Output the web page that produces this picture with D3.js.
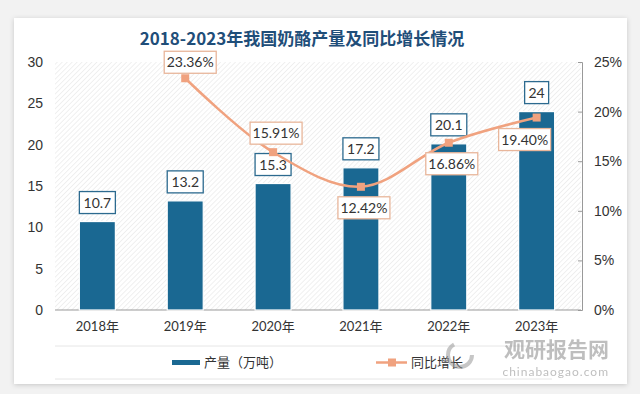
<!DOCTYPE html>
<html>
<head>
<meta charset="utf-8">
<script src="https://cdn.jsdelivr.net/npm/d3@7/dist/d3.min.js"></script>
<style>
  body { margin: 0; background: #f2f2f2; }
  svg { display: block; font-family: Lato, "Noto Sans CJK SC", sans-serif; }
</style>
</head>
<body>
<div id="chart"></div>
<script>
// data
const years = ["2018年", "2019年", "2020年", "2021年", "2022年", "2023年"];
const output = [10.7, 13.2, 15.3, 17.2, 20.1, 24];
const growth = [null, 23.36, 15.91, 12.42, 16.86, 19.40];
const growthLabelPos = [null, "above", "above", "below", "below", "below"];
const leftTicks = [0, 5, 10, 15, 20, 25, 30];
const rightTicks = [0, 5, 10, 15, 20, 25];

const W = 640, H = 394;
const plot = { left: 53, right: 581, top: 62, bottom: 310 };

const svg = d3.select("#chart").append("svg")
    .attr("width", W)
    .attr("height", H);

const defs = svg.append("defs");
const pat = defs.append("pattern")
    .attr("id", "hatch")
    .attr("patternUnits", "userSpaceOnUse")
    .attr("width", 3.5).attr("height", 3.5)
    .attr("patternTransform", "rotate(45)");
pat.append("rect").attr("width", 3.5).attr("height", 3.5).attr("fill", "#ffffff");
pat.append("line").attr("x1", 0).attr("y1", 0).attr("x2", 0).attr("y2", 3.5)
    .attr("stroke", "#e6e6e6").attr("stroke-width", 1.2);

const shadow = defs.append("filter").attr("id", "shadow")
    .attr("x", "-5%").attr("y", "-5%").attr("width", "110%").attr("height", "110%");
shadow.append("feDropShadow").attr("dx", 0).attr("dy", 1).attr("stdDeviation", 2.5)
    .attr("flood-color", "#000").attr("flood-opacity", 0.18);

// card
svg.append("rect")
    .attr("x", 14).attr("y", 18).attr("width", 613).attr("height", 366)
    .attr("fill", "#fff").attr("filter", "url(#shadow)");

// title
svg.append("text")
    .attr("x", 302).attr("y", 45)
    .attr("text-anchor", "middle")
    .attr("font-family", "'Noto Sans CJK SC', sans-serif")
    .attr("font-weight", "bold")
    .attr("font-size", 17)
    .attr("fill", "#1f4e79")
    .text("2018-2023年我国奶酪产量及同比增长情况");

// scales
const x = d3.scaleBand().domain(years).range([plot.left, plot.right]).paddingInner(0.59).paddingOuter(0.3);
const y = d3.scaleLinear().domain([0, 30]).range([plot.bottom, plot.top]);
const y2 = d3.scaleLinear().domain([0, 25]).range([plot.bottom, plot.top]);

// hatched plot background
svg.append("rect")
    .attr("x", plot.left + 2).attr("y", plot.top)
    .attr("width", plot.right - plot.left - 2).attr("height", plot.bottom - plot.top)
    .attr("fill", "url(#hatch)");

// left axis
const gl = svg.append("g")
    .attr("transform", `translate(${plot.left - 7},0)`)
    .call(d3.axisLeft(y).tickValues(leftTicks).tickSize(0).tickPadding(3));
gl.select(".domain").remove();
gl.selectAll("text").attr("font-size", 14).attr("fill", "#333");

// right axis
const gr = svg.append("g")
    .attr("transform", `translate(${plot.right + 1},0)`)
    .call(d3.axisRight(y2).tickValues(rightTicks).tickSize(-4).tickPadding(12).tickFormat(d => d + "%"));
gr.select(".domain").attr("stroke", "#999");
gr.selectAll(".tick line").attr("stroke", "#999");
gr.selectAll("text").attr("font-size", 14).attr("fill", "#333");

// baseline
svg.append("line")
    .attr("x1", plot.left + 2).attr("x2", plot.right)
    .attr("y1", plot.bottom).attr("y2", plot.bottom)
    .attr("stroke", "#999").attr("stroke-width", 1);

// x labels
svg.append("g").selectAll("text")
    .data(years).join("text")
    .attr("x", d => x(d) + x.bandwidth() / 2)
    .attr("y", 331)
    .attr("text-anchor", "middle")
    .attr("font-size", 13)
    .attr("fill", "#333")
    .text(d => d);

// bars
svg.append("g").selectAll("rect")
    .data(output).join("rect")
    .attr("x", (d, i) => x(years[i]))
    .attr("y", d => y(d))
    .attr("width", x.bandwidth())
    .attr("height", d => y(0) - y(d))
    .attr("fill", "#1a6892")
    .attr("stroke", "#ffffff")
    .attr("stroke-width", 1.2);

// label helper
function labelBox(g, cx, cy, txt, stroke, w) {
    g.append("rect")
        .attr("x", cx - w / 2).attr("y", cy - 11)
        .attr("width", w).attr("height", 22)
        .attr("fill", "#fff")
        .attr("stroke", stroke).attr("stroke-width", 1.3);
    g.append("text")
        .attr("x", cx).attr("y", cy + 5)
        .attr("text-anchor", "middle")
        .attr("font-size", 14)
        .attr("fill", "#333")
        .text(txt);
}

// bar labels
const barLabels = svg.append("g");
output.forEach((v, i) => {
    const cx = x(years[i]) + x.bandwidth() / 2;
    const w = String(v).length > 2 ? 36 : 24;
    labelBox(barLabels, cx, y(v) - 19, String(v), "#2c6a8f", w);
});

// growth line
const pts = growth.map((g, i) => ({ g: g, i: i })).filter(d => d.g !== null);
const line = d3.line()
    .x(d => x(years[d.i]) + x.bandwidth() / 2)
    .y(d => y2(d.g))
    .curve(d3.curveCatmullRom.alpha(0.5));

svg.append("path")
    .datum(pts)
    .attr("d", line)
    .attr("fill", "none")
    .attr("stroke", "#f0a27f")
    .attr("stroke-width", 2.5);

svg.append("g").selectAll("rect")
    .data(pts).join("rect")
    .attr("x", d => x(years[d.i]) + x.bandwidth() / 2 - 4)
    .attr("y", d => y2(d.g) - 4)
    .attr("width", 8).attr("height", 8)
    .attr("fill", "#f0a27f");

const lineLabels = svg.append("g");
pts.forEach(d => {
    const cx = x(years[d.i]) + x.bandwidth() / 2;
    const cy = y2(d.g);
    const pos = growthLabelPos[d.i];
    let lx = cx + 3, ly = pos === "above" ? cy - 19 : cy + 21;
    if (d.i === 5) { lx = cx - 12; ly = cy + 22; }
    if (d.i === 1) { lx = cx + 5; ly = cy - 16; }
    labelBox(lineLabels, lx, ly, d.g.toFixed(2) + "%", "#e8b69b", 52);
});

// legend
svg.append("line")
    .attr("x1", 55).attr("x2", 552).attr("y1", 346).attr("y2", 346)
    .attr("stroke", "#e6e6e6");
svg.append("line")
    .attr("x1", 55).attr("x2", 552).attr("y1", 379).attr("y2", 379)
    .attr("stroke", "#e6e6e6");

svg.append("rect")
    .attr("x", 172).attr("y", 360).attr("width", 28).attr("height", 5)
    .attr("fill", "#1a6892");
svg.append("text")
    .attr("x", 204).attr("y", 367)
    .attr("font-family", "'Noto Sans CJK SC', sans-serif")
    .attr("font-size", 13).attr("fill", "#333")
    .text("产量（万吨）");

svg.append("line")
    .attr("x1", 376).attr("x2", 407).attr("y1", 362.5).attr("y2", 362.5)
    .attr("stroke", "#f0a27f").attr("stroke-width", 2.5);
svg.append("rect")
    .attr("x", 388).attr("y", 358.5).attr("width", 8).attr("height", 8)
    .attr("fill", "#f0a27f");
svg.append("text")
    .attr("x", 411).attr("y", 367)
    .attr("font-family", "'Noto Sans CJK SC', sans-serif")
    .attr("font-size", 13).attr("fill", "#333")
    .text("同比增长");

// watermark
const wm = svg.append("g").attr("opacity", 0.55);
wm.append("circle").attr("cx", 460).attr("cy", 355).attr("r", 12)
    .attr("fill", "none").attr("stroke", "#999").attr("stroke-width", 4)
    .attr("stroke-dasharray", "50 25");
wm.append("text")
    .attr("x", 609).attr("y", 357)
    .attr("text-anchor", "end")
    .attr("font-family", "'Noto Sans CJK SC', sans-serif")
    .attr("font-weight", "bold")
    .attr("font-size", 21).attr("fill", "#8a8a8a")
    .text("观研报告网");
wm.append("text")
    .attr("x", 609).attr("y", 376)
    .attr("text-anchor", "end")
    .attr("font-size", 12).attr("fill", "#8a8a8a")
    .attr("letter-spacing", 1)
    .text("chinabaogao.com");
</script>
</body>
</html>
